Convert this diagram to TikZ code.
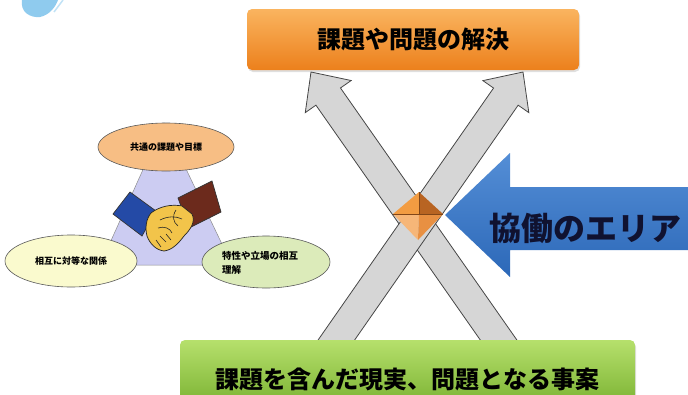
\documentclass[tikz,border=0pt]{standalone}
\usepackage{fontspec}
\newfontfamily\jp{Noto Sans CJK JP}
\usetikzlibrary{calc,shadows,shapes.geometric}

\definecolor{goalTop}{RGB}{250,180,95}
\definecolor{goalBot}{RGB}{236,128,28}
\definecolor{baseTop}{RGB}{182,224,108}
\definecolor{baseBot}{RGB}{112,170,40}
\definecolor{flowFill}{RGB}{214,214,214}
\definecolor{flowLine}{RGB}{70,70,70}
\definecolor{areaTop}{RGB}{84,142,214}
\definecolor{areaBot}{RGB}{44,104,184}
\definecolor{areaText}{RGB}{16,18,48}
\definecolor{peach}{RGB}{247,190,132}
\definecolor{cream}{RGB}{250,250,206}
\definecolor{sage}{RGB}{220,235,186}
\definecolor{lavender}{RGB}{204,204,242}
\definecolor{sleeveBlue}{RGB}{36,74,166}
\definecolor{sleeveBrown}{RGB}{108,42,28}
\definecolor{skin}{RGB}{242,196,74}
\definecolor{gemA}{RGB}{242,156,66}
\definecolor{gemB}{RGB}{184,100,34}
\definecolor{gemC}{RGB}{246,182,120}
\definecolor{gemD}{RGB}{232,144,66}
\definecolor{skyBlob}{RGB}{143,203,238}

\tikzset{
  titlebox/.style={rounded corners=5pt, draw=none, font=\jp\bfseries,
    drop shadow={opacity=0.25, shadow xshift=1pt, shadow yshift=-2pt}},
  flowarrow/.style={fill=flowFill, draw=flowLine, line width=0.8pt, line join=miter},
  bubble/.style={ellipse, draw=black!65, line width=0.6pt, inner sep=0pt,
    font=\jp\bfseries\fontsize{9}{12}\selectfont},
}

\begin{document}
\begin{tikzpicture}[x=1pt,y=-1pt]
\useasboundingbox (0,0) rectangle (688,394);

% pale blue ornament in the upper left corner
\fill[skyBlob] (22,0) .. controls (20,12) and (30,18) .. (40,17)
  .. controls (50,15) and (56,6) .. (58,0) -- cycle;
\draw[skyBlob!55, line width=1.5pt] (54,12) -- (63,0);

% ---------- cooperation triangle with three bubbles ----------
\fill[lavender, draw=black!45, line width=0.5pt] (164,123) -- (232,265) -- (100,265) -- cycle;

\node[bubble, fill=peach, minimum width=136pt, minimum height=48pt] (common) at (166,147)
  {共通の課題や目標};
\node[bubble, fill=cream, minimum width=132pt, minimum height=52pt] (equal) at (71,261)
  {相互に対等な関係};
\node[bubble, fill=sage, minimum width=128pt, minimum height=52pt] (mutual) at (266,262) {};
\node[anchor=west, align=left, font=\jp\bfseries\fontsize{9.5}{14}\selectfont, inner sep=0pt]
  (mutualtext) at (222,263) {特性や立場の相互\\理解};

% handshake
\filldraw[fill=sleeveBlue, draw=black!80, line width=0.7pt]
  (130,192) -- (156,211) -- (142,236) -- (113,214) -- cycle;
\filldraw[fill=sleeveBrown, draw=black!80, line width=0.7pt]
  (178,198) -- (212,181) -- (221,212) -- (189,228) -- cycle;
\filldraw[fill=skin, draw=black!85, line width=0.7pt]
  (151,213) .. controls (160,206) and (172,204) .. (182,206)
  -- (192,214) .. controls (196,222) and (190,230) .. (184,236)
  .. controls (178,244) and (172,250) .. (164,251)
  .. controls (156,250) and (150,244) .. (147,236)
  .. controls (145,228) and (146,219) .. cycle;
\draw[black!85, line width=0.6pt]
  (160,220) .. controls (168,216) and (176,216) .. (182,219)
  (158,228) .. controls (164,226) and (170,228) .. (172,233)
  (160,236) -- (166,242)
  (156,240) -- (161,247)
  (166,234) -- (171,240)
  (176,210) .. controls (172,216) and (173,222) .. (178,226);

% ---------- goal and base boxes ----------
\coordinate (aS) at (328,352);
\coordinate (aT) at (523,72);
\coordinate (bS) at (507,352);
\coordinate (bT) at (311,72);

% two crossing arrows from the base to the goal
\foreach \s/\t in {bS/bT, aS/aT}{
  \coordinate (h) at ($(\t)!30pt!(\s)$);
  \filldraw[flowarrow]
    ($(\s)!15pt!90:(\t)$) -- ($(h)!15pt!-90:(\s)$) -- ($(h)!28pt!-90:(\s)$) -- (\t)
    -- ($(h)!28pt!90:(\s)$) -- ($(h)!15pt!90:(\s)$) -- ($(\s)!15pt!-90:(\t)$) -- cycle;
}

\node[titlebox, top color=goalTop, bottom color=goalBot,
  minimum width=332pt, minimum height=61pt, font=\jp\bfseries\fontsize{24}{28}\selectfont]
  (goal) at (413,39.5) {課題や問題の解決};

\node[titlebox, top color=baseTop, bottom color=baseBot,
  minimum width=455pt, minimum height=78pt, font=\jp\bfseries\fontsize{24}{28}\selectfont]
  (base) at (407.5,379) {課題を含んだ現実、問題となる事案};

% crossing marker
\coordinate (gc) at (419,214);
\coordinate (gt) at (419,192);
\coordinate (gr) at (443,214);
\coordinate (gb) at (418,240);
\coordinate (gl) at (393,214);
\fill[gemA] (gc) -- (gl) -- (gt) -- cycle;
\fill[gemB] (gc) -- (gt) -- (gr) -- cycle;
\fill[gemC] (gc) -- (gl) -- (gb) -- cycle;
\fill[gemD] (gc) -- (gb) -- (gr) -- cycle;
\draw[gemB!70!black, line width=0.4pt] (gl) -- (gr) (gt) -- (gc);

% collaboration area arrow
\coordinate (areaTip) at (445,215);
\shade[top color=areaTop, bottom color=areaBot]
  (areaTip) -- (510,153) -- (510,187) -- (690,187) -- (690,250)
  -- (510,250) -- (510,277) -- cycle;
\node[font=\jp\bfseries\fontsize{32}{36}\selectfont, text=areaText, inner sep=0pt]
  (area) at (585,228) {協働のエリア};

\end{tikzpicture}
\end{document}
